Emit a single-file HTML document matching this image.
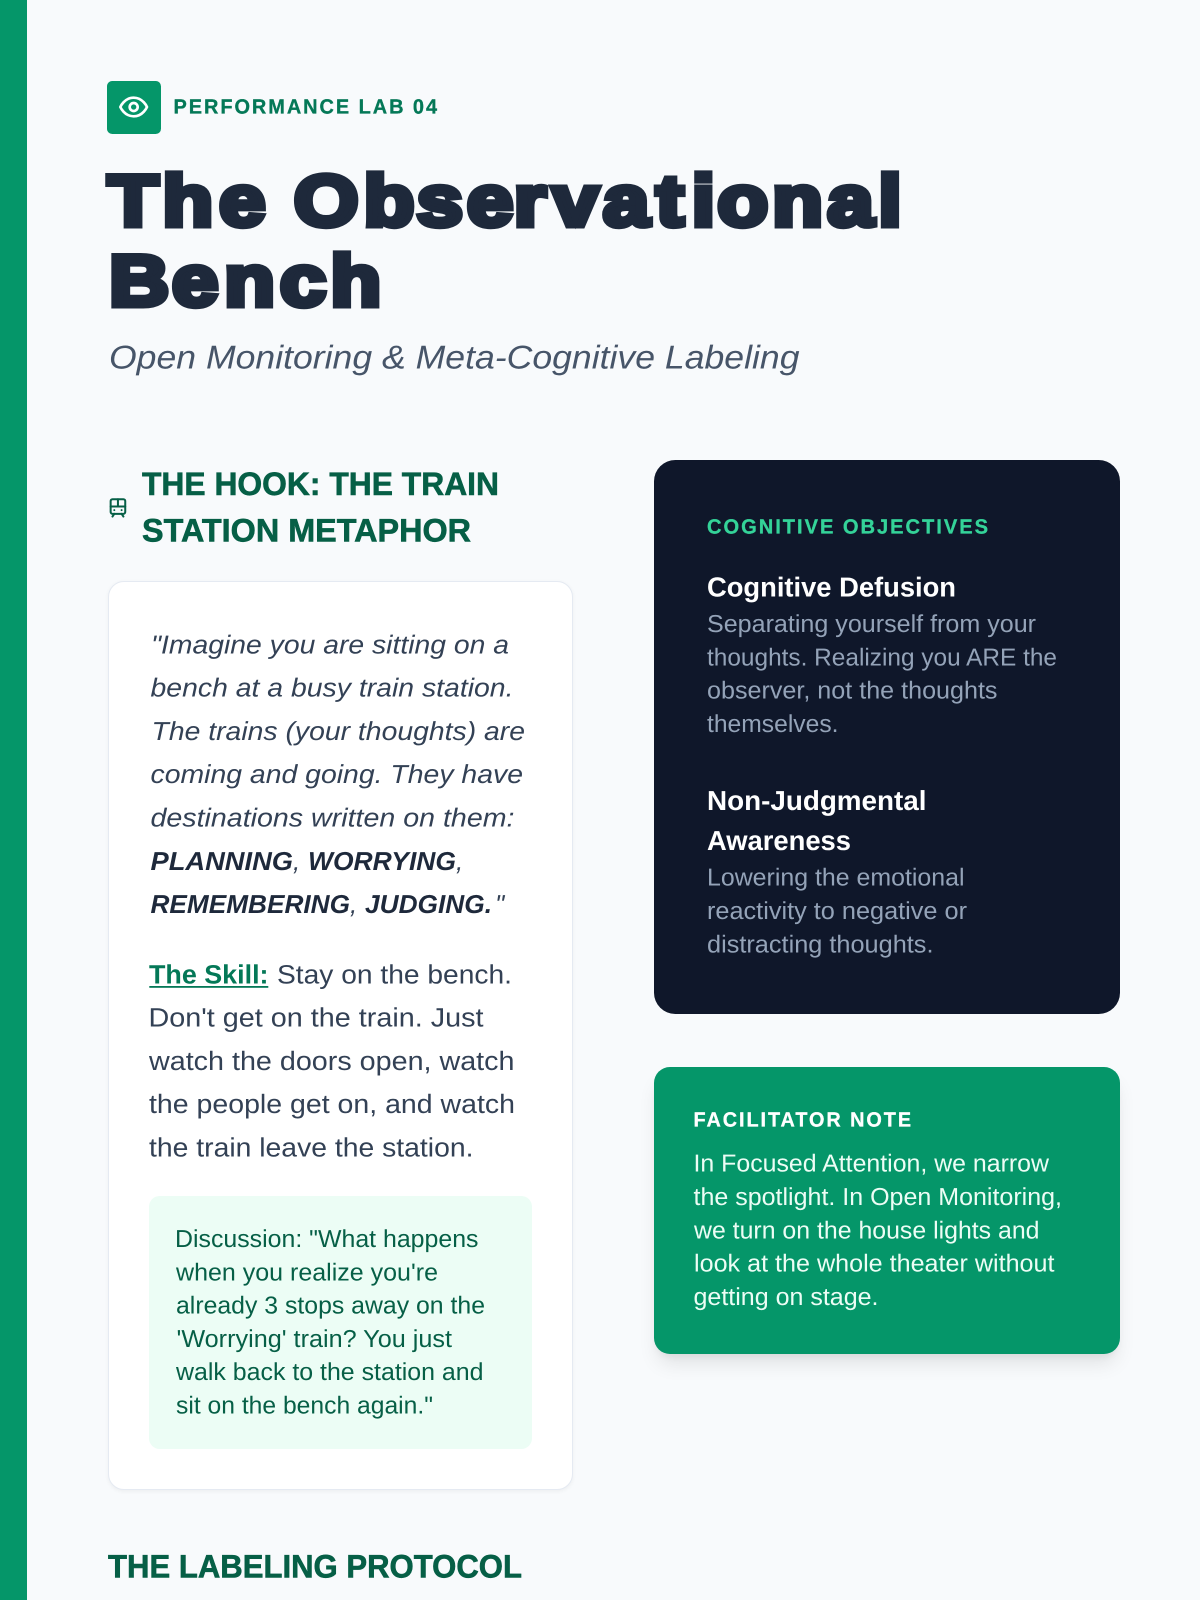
<!DOCTYPE html>
<html lang="en"><head><meta charset="utf-8"><title>The Observational Bench</title>
<style>
html,body{margin:0;padding:0;width:1200px;height:1600px;overflow:hidden;background:#f8fafc}
.b{position:absolute;box-sizing:border-box}
svg{position:absolute;left:0;top:0}
text{font-family:"Liberation Sans",sans-serif;text-rendering:geometricPrecision;white-space:pre}
.t{font-size:72px;font-weight:700;fill:#1e293b;stroke:#1e293b;stroke-width:6px;stroke-linejoin:miter;text-anchor:middle}
.sub{font-size:33px;font-style:italic;fill:#475569}
.kick{font-size:20.5px;font-weight:700;fill:#047857;stroke:#047857;stroke-width:.3px}
.h{font-size:32.5px;font-weight:700;fill:#065f46;stroke:#065f46;stroke-width:.6px}
.q{font-size:26px;font-style:italic;fill:#334155}
.qb{font-size:26px;font-style:italic;font-weight:700;fill:#1e293b}
.s{font-size:26.5px;fill:#334155}
.sb{font-size:26.5px;font-weight:700;fill:#047857}
.d{font-size:24.5px;fill:#065f46}
.ko{font-size:20.5px;font-weight:700;fill:#34d399;stroke:#34d399;stroke-width:.3px}
.oh{font-size:27.5px;font-weight:700;fill:#fff}
.op{font-size:24.5px;fill:#94a3b8}
.fh{font-size:20.5px;font-weight:700;fill:#fff;stroke:#fff;stroke-width:.3px}
.fp{font-size:24.5px;fill:#ecfdf5}
</style></head><body>
<div class="b" style="left:0;top:0;width:27px;height:1600px;background:#059669"></div>
<div class="b" style="left:107.3px;top:80.5px;width:53.3px;height:53.3px;background:#059669;border-radius:5.3px"></div>
<div class="b" style="left:108px;top:581px;width:465px;height:909px;background:#fff;border:1.8px solid #e5eaf2;border-radius:16px;box-shadow:0 1.33px 4px rgba(0,0,0,.05)"></div>
<div class="b" style="left:149.3px;top:1195.7px;width:382.4px;height:253px;background:#ecfdf5;border-radius:10.67px"></div>
<div class="b" style="left:654px;top:460.3px;width:466px;height:553.4px;background:#0f172a;border-radius:21.3px"></div>
<div class="b" style="left:654px;top:1067px;width:466px;height:286.5px;background:#059669;border-radius:16px;box-shadow:0 13px 20px -4px rgba(0,0,0,.1),0 5px 8px -3px rgba(0,0,0,.06)"></div>
<svg width="1200" height="1600" viewBox="0 0 1200 1600" xmlns="http://www.w3.org/2000/svg">
<g transform="translate(117.67,91) scale(1.3333)" fill="none" stroke="#fff" stroke-width="2" stroke-linecap="round" stroke-linejoin="round"><path d="M2 12s3-7 10-7 10 7 10 7-3 7-10 7-10-7-10-7Z"/><circle cx="12" cy="12" r="3"/></g>
<g transform="translate(107,496.5) scale(.912)" fill="none" stroke="#065f46" stroke-width="2.2" stroke-linecap="round" stroke-linejoin="round"><rect x="4" y="3" width="16" height="16" rx="2"/><path d="M4 11h16M12 3v8M8 19l-2 3M18 22l-2-3M8 15h.01M16 15h.01"/></g>
<text class="kick" x="173.5" y="113.3" textLength="265.5" lengthAdjust="spacingAndGlyphs" style="letter-spacing:2px">PERFORMANCE LAB 04</text>
<text class="t" transform="scale(1.15,1)" y="225.3" x="115.65 163.3 210.7 243.5 283.7 338.3 382.4 426.1 460.9 500.4 544.5 582.6 611.6 645.9 693.5 739.6 773.9">The Observational</text>
<text class="t" transform="scale(1.15,1)" y="305.3" x="121 169.7 217 263.5 309.4">Bench</text>
<text class="sub" x="109" y="368.3" textLength="690.5" lengthAdjust="spacingAndGlyphs">Open Monitoring &amp; Meta-Cognitive Labeling</text>
<text class="h" x="142" y="495" textLength="357" lengthAdjust="spacingAndGlyphs">THE HOOK: THE TRAIN</text>
<text class="h" x="142" y="541.7" textLength="329" lengthAdjust="spacingAndGlyphs">STATION METAPHOR</text>
<text class="q" x="151" y="653.3" textLength="358" lengthAdjust="spacingAndGlyphs">"Imagine you are sitting on a</text>
<text class="q" x="150.5" y="696.6" textLength="363" lengthAdjust="spacingAndGlyphs">bench at a busy train station.</text>
<text class="q" x="151.5" y="739.9" textLength="373.5" lengthAdjust="spacingAndGlyphs">The trains (your thoughts) are</text>
<text class="q" x="150.5" y="783.2" textLength="372.5" lengthAdjust="spacingAndGlyphs">coming and going. They have</text>
<text class="q" x="150.5" y="826.5" textLength="364" lengthAdjust="spacingAndGlyphs">destinations written on them:</text>
<text class="qb" x="150.5" y="869.8" textLength="142.5" lengthAdjust="spacingAndGlyphs">PLANNING</text><text class="q" x="293" y="869.8">,</text>
<text class="qb" x="308" y="869.8" textLength="148" lengthAdjust="spacingAndGlyphs">WORRYING</text><text class="q" x="456" y="869.8">,</text>
<text class="qb" x="150.5" y="913.1" textLength="199.5" lengthAdjust="spacingAndGlyphs">REMEMBERING</text><text class="q" x="350" y="913.1">,</text>
<text class="qb" x="365" y="913.1" textLength="127" lengthAdjust="spacingAndGlyphs">JUDGING.</text><text class="q" x="495" y="913.1">"</text>
<text class="sb" x="149" y="983.3" textLength="119.5" lengthAdjust="spacingAndGlyphs">The Skill:</text>
<rect x="149.3" y="986" width="119" height="1.8" fill="#047857"/>
<text class="s" x="277" y="983.3" textLength="235" lengthAdjust="spacingAndGlyphs">Stay on the bench.</text>
<text class="s" x="148.5" y="1026.6" textLength="335" lengthAdjust="spacingAndGlyphs">Don't get on the train. Just</text>
<text class="s" x="149" y="1069.9" textLength="365.5" lengthAdjust="spacingAndGlyphs">watch the doors open, watch</text>
<text class="s" x="149" y="1113.2" textLength="366" lengthAdjust="spacingAndGlyphs">the people get on, and watch</text>
<text class="s" x="149" y="1156.5" textLength="324.5" lengthAdjust="spacingAndGlyphs">the train leave the station.</text>
<text class="d" x="175" y="1247" textLength="303.5" lengthAdjust="spacingAndGlyphs">Discussion: "What happens</text>
<text class="d" x="176" y="1280.3" textLength="262" lengthAdjust="spacingAndGlyphs">when you realize you're</text>
<text class="d" x="176" y="1313.6" textLength="309" lengthAdjust="spacingAndGlyphs">already 3 stops away on the</text>
<text class="d" x="176.5" y="1346.9" textLength="275.5" lengthAdjust="spacingAndGlyphs">'Worrying' train? You just</text>
<text class="d" x="176" y="1380.2" textLength="307.5" lengthAdjust="spacingAndGlyphs">walk back to the station and</text>
<text class="d" x="176" y="1413.5" textLength="257" lengthAdjust="spacingAndGlyphs">sit on the bench again."</text>
<text class="h" x="108" y="1577.7" textLength="414" lengthAdjust="spacingAndGlyphs">THE LABELING PROTOCOL</text>
<text class="ko" x="707" y="533.3" textLength="283" lengthAdjust="spacingAndGlyphs" style="letter-spacing:2px">COGNITIVE OBJECTIVES</text>
<text class="oh" x="707" y="596.7" textLength="249" lengthAdjust="spacingAndGlyphs">Cognitive Defusion</text>
<text class="op" x="707" y="632" textLength="329" lengthAdjust="spacingAndGlyphs">Separating yourself from your</text>
<text class="op" x="707" y="665.3" textLength="350" lengthAdjust="spacingAndGlyphs">thoughts. Realizing you ARE the</text>
<text class="op" x="707" y="698.3" textLength="290.5" lengthAdjust="spacingAndGlyphs">observer, not the thoughts</text>
<text class="op" x="707" y="731.9" textLength="131.5" lengthAdjust="spacingAndGlyphs">themselves.</text>
<text class="oh" x="707" y="810" textLength="219.5" lengthAdjust="spacingAndGlyphs">Non-Judgmental</text>
<text class="oh" x="707" y="850" textLength="144" lengthAdjust="spacingAndGlyphs">Awareness</text>
<text class="op" x="707" y="885.7" textLength="257.5" lengthAdjust="spacingAndGlyphs">Lowering the emotional</text>
<text class="op" x="707" y="919" textLength="260" lengthAdjust="spacingAndGlyphs">reactivity to negative or</text>
<text class="op" x="707" y="952.3" textLength="226.5" lengthAdjust="spacingAndGlyphs">distracting thoughts.</text>
<text class="fh" x="693.5" y="1126.6" textLength="219.5" lengthAdjust="spacingAndGlyphs" style="letter-spacing:2px">FACILITATOR NOTE</text>
<text class="fp" x="693.5" y="1171.7" textLength="355.5" lengthAdjust="spacingAndGlyphs">In Focused Attention, we narrow</text>
<text class="fp" x="693.5" y="1205" textLength="368.5" lengthAdjust="spacingAndGlyphs">the spotlight. In Open Monitoring,</text>
<text class="fp" x="694" y="1238.3" textLength="345.5" lengthAdjust="spacingAndGlyphs">we turn on the house lights and</text>
<text class="fp" x="694" y="1271.7" textLength="360.5" lengthAdjust="spacingAndGlyphs">look at the whole theater without</text>
<text class="fp" x="693.5" y="1305" textLength="185" lengthAdjust="spacingAndGlyphs">getting on stage.</text>
</svg>
</body></html>
